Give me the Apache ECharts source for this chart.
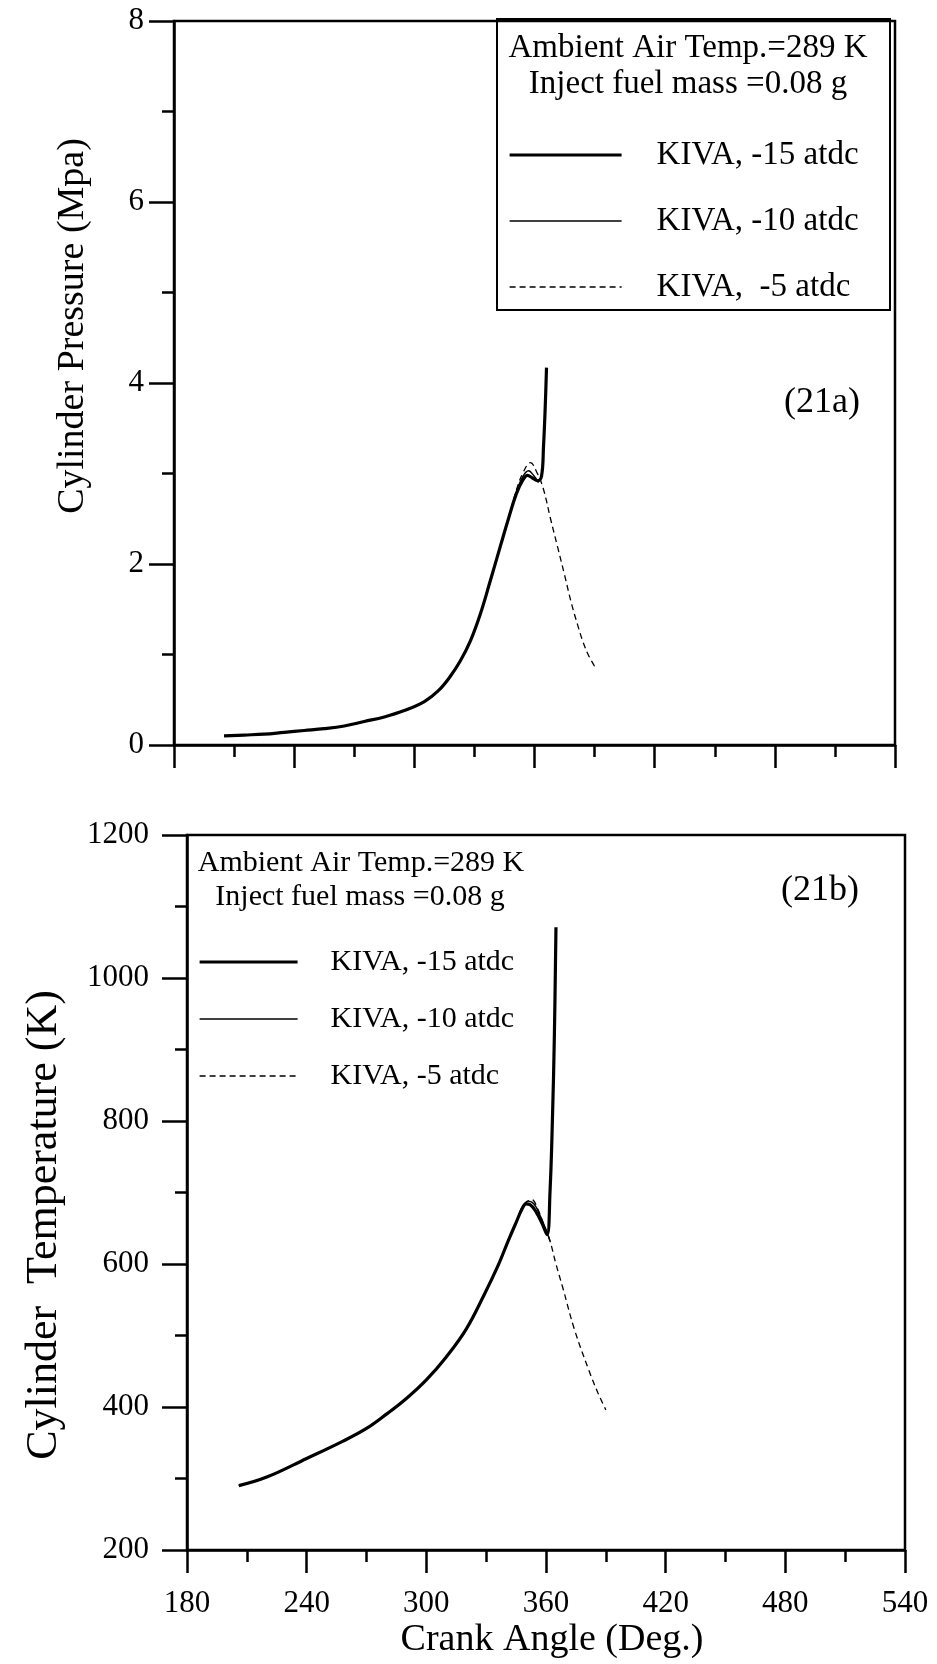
<!DOCTYPE html>
<html>
<head>
<meta charset="utf-8">
<script src="https://cdn.jsdelivr.net/npm/echarts@6/dist/echarts.min.js"></script>
<style>
html,body{margin:0;padding:0;background:#fff;}
#chart{width:937px;height:1664px;}
</style>
</head>
<body>
<div id="chart"></div>
<script>
// ---------- DATA ----------
const seriesNames = ['KIVA, -15 atdc', 'KIVA, -10 atdc', 'KIVA, -5 atdc'];
const xTicks = [180, 240, 300, 360, 420, 480, 540];
const pressureTicks = [0, 2, 4, 6, 8];
const temperatureTicks = [200, 400, 600, 800, 1000, 1200];

// Cylinder pressure (MPa) vs crank angle (deg)
const p15Angle = [205, 215, 225, 235, 245, 255, 265, 275, 285, 295, 305, 312, 318, 323, 328, 333, 338, 343, 347, 351, 354, 356.5, 359, 361.5, 363.5, 364.5, 365.3, 366];
const p15Value = [0.10, 0.11, 0.12, 0.14, 0.16, 0.18, 0.21, 0.26, 0.31, 0.38, 0.48, 0.60, 0.76, 0.93, 1.15, 1.45, 1.82, 2.20, 2.50, 2.78, 2.92, 2.98, 2.95, 2.92, 2.97, 3.30, 3.70, 4.17];
const p10Angle = [205, 215, 225, 235, 245, 255, 265, 275, 285, 295, 305, 312, 318, 323, 328, 333, 338, 343, 347, 351, 354, 357, 359.5, 362];
const p10Value = [0.10, 0.11, 0.12, 0.14, 0.16, 0.18, 0.21, 0.26, 0.31, 0.38, 0.48, 0.60, 0.76, 0.93, 1.15, 1.45, 1.82, 2.20, 2.50, 2.80, 2.96, 3.03, 2.98, 2.90];
const p5Angle = [205, 215, 225, 235, 245, 255, 265, 275, 285, 295, 305, 312, 318, 323, 328, 333, 338, 343, 347, 351, 354.5, 358, 361, 364.3, 368, 371.4, 375, 378.5, 381.5, 384.2, 387, 390];
const p5Value = [0.10, 0.11, 0.12, 0.14, 0.16, 0.18, 0.21, 0.26, 0.31, 0.38, 0.48, 0.60, 0.76, 0.93, 1.15, 1.45, 1.82, 2.20, 2.50, 2.82, 3.02, 3.12, 3.02, 2.84, 2.50, 2.20, 1.88, 1.56, 1.33, 1.14, 0.99, 0.87];

// Cylinder temperature (K) vs crank angle (deg)
const t15Angle = [206, 220, 240, 258, 270, 280, 290, 300, 310, 320, 329, 336, 341, 345, 348, 350, 352, 355, 358, 360.5, 362, 363.2, 364.2, 365];
const t15Value = [290, 302, 328, 352, 370, 390, 412, 438, 470, 509, 557, 598, 632, 658, 677, 684, 683, 673, 657, 641, 700, 800, 920, 1071];
const t10Angle = [206, 220, 240, 258, 270, 280, 290, 300, 310, 320, 329, 336, 341, 345, 348, 351, 354, 357, 360, 362];
const t10Value = [290, 302, 328, 352, 370, 390, 412, 438, 470, 509, 557, 598, 632, 658, 679, 688, 684, 668, 648, 632];
const t5Angle = [206, 220, 240, 258, 270, 280, 290, 300, 310, 320, 329, 336, 341, 345, 348, 350, 352.9, 356, 358.5, 361.5, 365, 368.6, 374.2, 381.4, 386, 390];
const t5Value = [290, 302, 328, 352, 370, 390, 412, 438, 470, 509, 557, 598, 632, 658, 680, 686, 690, 676, 658, 637, 600, 565, 509, 452, 420, 396];

// ---------- BUILD ----------
function pairs(xs, ys) { return xs.map((x, i) => [x, ys[i]]); }
const FONT = 'Liberation Serif';
const BLACK = '#000';

const lineStyles = [
  { color: BLACK, width: 3.2, type: 'solid' },
  { color: BLACK, width: 1.4, type: 'solid' },
  { color: BLACK, width: 1.3, type: [6, 4] }
];
const zs = [5, 4, 3];

function xAxisCfg(gridIndex, showLabels) {
  return {
    type: 'value', gridIndex: gridIndex, min: xTicks[0], max: xTicks[xTicks.length - 1], interval: 60,
    axisLine: { show: true, onZero: false, lineStyle: { color: BLACK, width: 2.5 } },
    axisTick: { show: true, inside: false, length: 23, lineStyle: { color: BLACK, width: 2.5 } },
    minorTick: { show: true, splitNumber: 2, length: 12, lineStyle: { color: BLACK, width: 2.5 } },
    axisLabel: { show: showLabels, margin: 38, color: BLACK, fontFamily: FONT, fontSize: 31, formatter: v => String(v) },
    splitLine: { show: false }
  };
}
function yAxisCfg(gridIndex, ticks, labelMargin) {
  return {
    type: 'value', gridIndex: gridIndex, min: ticks[0], max: ticks[ticks.length - 1], interval: ticks[1] - ticks[0],
    axisLine: { show: true, onZero: false, lineStyle: { color: BLACK, width: 2.5 } },
    axisTick: { show: true, inside: false, length: 25, lineStyle: { color: BLACK, width: 2.5 } },
    minorTick: { show: true, splitNumber: 2, length: 12, lineStyle: { color: BLACK, width: 2.5 } },
    axisLabel: { show: true, margin: labelMargin, color: BLACK, fontFamily: FONT, fontSize: 31, formatter: v => String(v) },
    splitLine: { show: false }
  };
}

const pressureData = [pairs(p15Angle, p15Value), pairs(p10Angle, p10Value), pairs(p5Angle, p5Value)];
const tempData = [pairs(t15Angle, t15Value), pairs(t10Angle, t10Value), pairs(t5Angle, t5Value)];

const series = [];
[0, 1, 2].forEach(i => {
  series.push({ name: seriesNames[i], type: 'line', xAxisIndex: 0, yAxisIndex: 0, data: pressureData[i],
    symbol: 'none', smooth: 0.4, lineStyle: lineStyles[i], itemStyle: { color: BLACK }, z: zs[i], silent: true, animation: false });
  series.push({ name: seriesNames[i], type: 'line', xAxisIndex: 1, yAxisIndex: 1, data: tempData[i],
    symbol: 'none', smooth: 0.4, lineStyle: lineStyles[i], itemStyle: { color: BLACK }, z: zs[i], silent: true, animation: false });
});

const legendData = seriesNames.map((n, i) => ({ name: n, lineStyle: { width: lineStyles[i].width, type: lineStyles[i].type, color: BLACK } }));

const option = {
  backgroundColor: '#fff',
  animation: false,
  grid: [
    { left: 174, top: 21, width: 721, height: 724, show: true, borderColor: BLACK, borderWidth: 2.5, backgroundColor: 'transparent' },
    { left: 187, top: 835, width: 718, height: 715, show: true, borderColor: BLACK, borderWidth: 2.5, backgroundColor: 'transparent' }
  ],
  xAxis: [xAxisCfg(0, false), xAxisCfg(1, true)],
  yAxis: [yAxisCfg(0, pressureTicks, 30), yAxisCfg(1, temperatureTicks, 38)],
  legend: [
    {
      data: legendData, orient: 'vertical', left: 508, top: 135, padding: 0,
      itemWidth: 112, itemHeight: 10, itemGap: 26, selectedMode: false,
      itemStyle: { opacity: 0 },
      formatter: n => n === 'KIVA, -5 atdc' ? 'KIVA,  -5 atdc' : n,
      textStyle: { color: BLACK, fontFamily: FONT, fontSize: 33, lineHeight: 40, padding: [0, 0, 0, 30] }
    },
    {
      data: legendData, orient: 'vertical', left: 198, top: 944, padding: 0,
      itemWidth: 98, itemHeight: 10, itemGap: 21, selectedMode: false,
      itemStyle: { opacity: 0 },
      textStyle: { color: BLACK, fontFamily: FONT, fontSize: 30, lineHeight: 36, padding: [0, 0, 0, 28] }
    }
  ],
  graphic: [
    { type: 'rect', shape: { x: 497, y: 19, width: 393, height: 291 }, style: { fill: 'none', stroke: BLACK, lineWidth: 2 }, z: 10 },
    { type: 'text', x: 688, y: 48, style: { text: 'Ambient Air Temp.=289 K', font: '33px "Liberation Serif"', fill: BLACK, textAlign: 'center', textVerticalAlign: 'middle' } },
    { type: 'text', x: 688, y: 84, style: { text: 'Inject fuel mass =0.08 g', font: '33px "Liberation Serif"', fill: BLACK, textAlign: 'center', textVerticalAlign: 'middle' } },
    { type: 'text', x: 822, y: 403, style: { text: '(21a)', font: '36px "Liberation Serif"', fill: BLACK, textAlign: 'center', textVerticalAlign: 'middle' } },
    { type: 'text', x: 361, y: 863, style: { text: 'Ambient Air Temp.=289 K', font: '30px "Liberation Serif"', fill: BLACK, textAlign: 'center', textVerticalAlign: 'middle' } },
    { type: 'text', x: 360, y: 897, style: { text: 'Inject fuel mass =0.08 g', font: '30px "Liberation Serif"', fill: BLACK, textAlign: 'center', textVerticalAlign: 'middle' } },
    { type: 'text', x: 820, y: 891, style: { text: '(21b)', font: '36px "Liberation Serif"', fill: BLACK, textAlign: 'center', textVerticalAlign: 'middle' } },
    { type: 'text', x: 73, y: 326, rotation: Math.PI / 2, style: { text: 'Cylinder Pressure (Mpa)', font: '38px "Liberation Serif"', fill: BLACK, textAlign: 'center', textVerticalAlign: 'middle' } },
    { type: 'text', x: 44, y: 1225, rotation: Math.PI / 2, style: { text: 'Cylinder  Temperature (K)', font: '44px "Liberation Serif"', fill: BLACK, textAlign: 'center', textVerticalAlign: 'middle' } },
    { type: 'text', x: 552, y: 1640, style: { text: 'Crank Angle (Deg.)', font: '38px "Liberation Serif"', fill: BLACK, textAlign: 'center', textVerticalAlign: 'middle' } }
  ],
  series: series
};

const chart = echarts.init(document.getElementById('chart'), null, { renderer: 'canvas' });
chart.setOption(option);
</script>
</body>
</html>
